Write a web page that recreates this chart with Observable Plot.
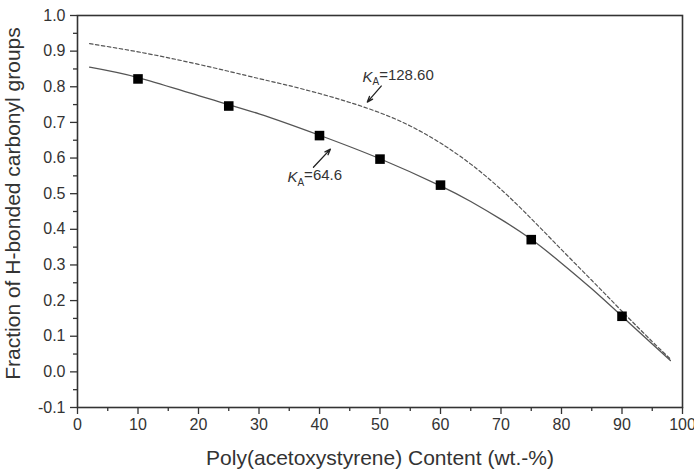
<!DOCTYPE html>
<html>
<head>
<meta charset="utf-8">
<script src="https://cdn.jsdelivr.net/npm/d3@7"></script>
<script src="https://cdn.jsdelivr.net/npm/@observablehq/plot@0.6"></script>
<style>
  html, body { margin: 0; padding: 0; background: #fff; }
</style>
</head>
<body>
<div id="chart"></div>
<script>
// ---- data ----
const xTicks = [0, 10, 20, 30, 40, 50, 60, 70, 80, 90, 100];
const xMinorTicks = [5, 15, 25, 35, 45, 55, 65, 75, 85, 95];
const yTicks = [-0.1, 0.0, 0.1, 0.2, 0.3, 0.4, 0.5, 0.6, 0.7, 0.8, 0.9, 1.0];
const yMinorTicks = [-0.05, 0.05, 0.15, 0.25, 0.35, 0.45, 0.55, 0.65, 0.75, 0.85, 0.95];

const xLabel = "Poly(acetoxystyrene) Content (wt.-%)";
const yLabel = "Fraction of H-bonded carbonyl groups";

// measured points
const measuredX = [10, 25, 40, 50, 60, 75, 90];
const measuredY = [0.822, 0.746, 0.663, 0.597, 0.524, 0.371, 0.156];

// fitted curve, KA = 64.6 (solid)
const fitLowX = [2, 10, 20, 30, 40, 50, 60, 65, 70, 75, 80, 85, 90, 95, 98];
const fitLowY = [0.855, 0.826, 0.775, 0.724, 0.664, 0.598, 0.522, 0.478, 0.428, 0.372, 0.305, 0.233, 0.156, 0.078, 0.032];

// predicted curve, KA = 128.60 (dashed)
const fitHighX = [2, 10, 20, 30, 35, 40, 45, 50, 55, 60, 65, 70, 75, 80, 85, 90, 95, 98];
const fitHighY = [0.921, 0.898, 0.863, 0.823, 0.803, 0.781, 0.756, 0.727, 0.690, 0.642, 0.583, 0.512, 0.430, 0.343, 0.257, 0.170, 0.085, 0.036];

// annotations
const annotLabels = ["128.60", "64.6"];
const annotTextX = [47.1, 34.7];
const annotTextY = [0.827, 0.546];
const arrowFromX = [50.2, 39.0];
const arrowFromY = [0.802, 0.574];
const arrowToX = [47.9, 41.8];
const arrowToY = [0.757, 0.625];

// ---- build tables ----
const points = measuredX.map((x, i) => ({x, y: measuredY[i]}));
const lowCurve = fitLowX.map((x, i) => ({x, y: fitLowY[i]}));
const highCurve = fitHighX.map((x, i) => ({x, y: fitHighY[i]}));
const annots = annotLabels.map((t, i) => ({
  t, x: annotTextX[i], y: annotTextY[i],
  x1: arrowFromX[i], y1: arrowFromY[i], x2: arrowToX[i], y2: arrowToY[i]
}));

const ink = "#333";

const chart = Plot.plot({
  width: 694,
  height: 471,
  marginLeft: 77,
  marginRight: 12,
  marginTop: 15,
  marginBottom: 64,
  style: {fontFamily: "'Liberation Sans', Arial, Helvetica, sans-serif", color: ink, background: "#fff"},
  x: {domain: [0, 100]},
  y: {domain: [-0.1, 1.0]},
  marks: [
    Plot.axisX(xTicks, {tickSize: 7, tickPadding: 4, fontSize: 16, tickFormat: d => String(d), label: null, stroke: ink, strokeWidth: 1.3}),
    Plot.axisX(xMinorTicks, {tickSize: 4, text: null, label: null, stroke: ink, strokeWidth: 1.3}),
    Plot.axisY(yTicks, {tickSize: 7, tickPadding: 5, fontSize: 16, tickFormat: d => d.toFixed(1), label: null, stroke: ink, strokeWidth: 1.3}),
    Plot.axisY(yMinorTicks, {tickSize: 4, text: null, label: null, stroke: ink, strokeWidth: 1.3}),
    Plot.frame({stroke: ink, strokeWidth: 1.6}),
    Plot.line(highCurve, {x: "x", y: "y", curve: "natural", stroke: "#555", strokeWidth: 1.2, strokeDasharray: "3.5,2.5"}),
    Plot.line(lowCurve, {x: "x", y: "y", curve: "natural", stroke: "#555", strokeWidth: 1.3}),
    Plot.dot(points, {x: "x", y: "y", symbol: "square", r: 5.4, fill: "#000", stroke: "none"}),
    Plot.arrow(annots, {x1: "x1", y1: "y1", x2: "x2", y2: "y2", stroke: "#222", strokeWidth: 1.3, headLength: 7, headAngle: 40}),
    Plot.text(annots, {x: "x", y: "y", text: "t", textAnchor: "start", fontSize: 15, fill: "#333", className: "ka-label"}),
    Plot.text([xLabel], {frameAnchor: "bottom", dy: 51, lineAnchor: "middle", textAnchor: "middle", fontSize: 21, fill: ink}),
    Plot.text([yLabel], {frameAnchor: "left", dx: -64, dy: -8, rotate: -90, lineAnchor: "middle", textAnchor: "middle", fontSize: 21, fill: ink})
  ]
});

// K with subscript A
d3.select(chart).selectAll(".ka-label text").each(function() {
  const v = this.textContent;
  const t = d3.select(this);
  t.text(null);
  t.append("tspan").attr("font-style", "italic").text("K");
  t.append("tspan").attr("font-size", 10).attr("dy", "0.35em").text("A");
  t.append("tspan").attr("dy", "-0.35em").text("=" + v);
});

document.getElementById("chart").appendChild(chart);
</script>
</body>
</html>
